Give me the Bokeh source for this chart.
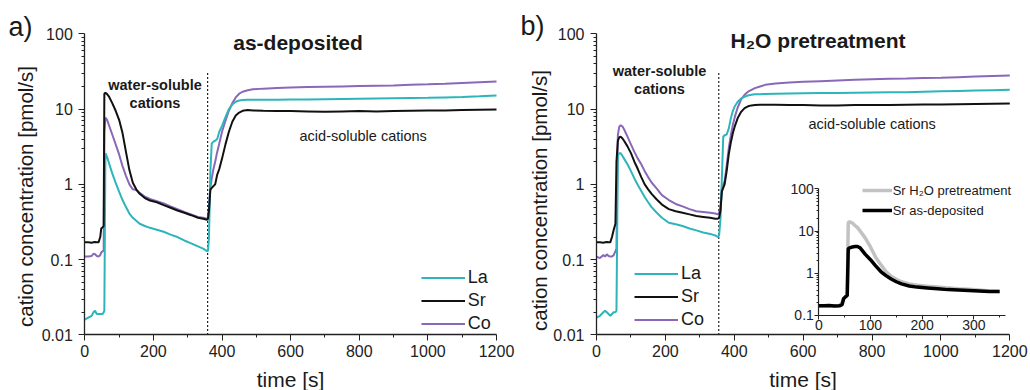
import math
from bokeh.plotting import figure
from bokeh.models import (Range1d, LogScale, LinearAxis, LogAxis, FixedTicker, Legend,
                          LegendItem, Label, CustomJSTickFormatter)
from bokeh.embed import file_html
from bokeh.resources import INLINE

FONT = "Liberation Sans"
C_LA = "#2db5bb"
C_SR = "#111111"
C_CO = "#8a68b8"
C_GRAY = "#c2c2c2"
TXT = "#1a1a1a"

# ---------------- data ----------------
x_ticks = [0, 200, 400, 600, 800, 1000, 1200]
x_minor = [100, 300, 500, 700, 900, 1100]
y_ticks = [0.01, 0.1, 1, 10, 100]
y_minor = [0.02, 0.03, 0.04, 0.05, 0.06, 0.07, 0.08, 0.09,
           0.2, 0.3, 0.4, 0.5, 0.6, 0.7, 0.8, 0.9,
           2, 3, 4, 5, 6, 7, 8, 9, 20, 30, 40, 50, 60, 70, 80, 90]
inset_x_ticks = [0, 100, 200, 300]
inset_x_minor = [50, 150, 250, 350]
inset_y_ticks = [0.1, 1, 10, 100]
inset_y_minor = [0.2, 0.3, 0.4, 0.5, 0.6, 0.7, 0.8, 0.9,
                 2, 3, 4, 5, 6, 7, 8, 9, 20, 30, 40, 50, 60, 70, 80, 90]

boundary_a = 358
boundary_b = 355

# panel a) as-deposited
t_a = [0, 10, 20, 25, 30, 35, 40, 45, 48, 52,
       55, 57, 60, 65, 70, 80, 90, 100, 110, 120,
       130, 140, 150, 160, 175, 190, 210, 230, 250, 270,
       290, 310, 330, 345, 356, 359, 362, 366, 370, 375,
       380, 386, 392, 400, 410, 420, 430, 440, 450, 460,
       475, 490, 520, 560, 600, 650, 700, 750, 800, 850,
       900, 950, 1000, 1050, 1100, 1150, 1200]
la_a = [0.016, 0.017, 0.018, 0.02, 0.021, 0.019, 0.019, 0.019, 0.019, 0.019,
        0.02, 0.021, 2.6, 2.3, 1.95, 1.4, 1.05, 0.8, 0.62, 0.5,
        0.41, 0.36, 0.33, 0.3, 0.28, 0.265, 0.25, 0.235, 0.215, 0.2,
        0.18, 0.165, 0.15, 0.14, 0.13, 0.13, 0.2, 1.5, 3.5, 3.7,
        3.8, 4.0, 5.0, 6.0, 7.8, 10.0, 11.5, 12.5, 13.0, 13.2,
        13.3, 13.3, 13.3, 13.3, 13.4, 13.4, 13.5, 13.6, 13.7, 13.8,
        13.9, 14.0, 14.1, 14.3, 14.5, 14.8, 15.2]
sr_a = [0.17, 0.17, 0.168, 0.17, 0.172, 0.17, 0.17, 0.2, 0.26, 0.27,
        0.28, 16.0, 16.5, 15.8, 14.8, 12.0, 9.5, 7.2, 4.8, 2.7,
        1.55, 1.05, 0.86, 0.75, 0.66, 0.61, 0.58, 0.53, 0.49, 0.45,
        0.42, 0.39, 0.36, 0.35, 0.34, 0.35, 0.45, 0.85, 0.9, 0.95,
        1.0, 1.35, 1.6, 2.2, 3.4, 5.0, 6.8, 8.2, 9.0, 9.5,
        9.7, 9.6, 9.5, 9.4, 9.4, 9.3, 9.2, 9.3, 9.4, 9.3,
        9.4, 9.5, 9.6, 9.6, 9.7, 9.8, 9.9]
co_a = [0.11, 0.11, 0.112, 0.12, 0.118, 0.112, 0.11, 0.115, 0.125, 0.13,
        0.13, 5.0, 7.7, 7.2, 6.2, 4.6, 3.4, 2.5, 1.75, 1.3,
        1.0, 0.86, 0.84, 0.77, 0.69, 0.64, 0.6, 0.56, 0.51, 0.47,
        0.43, 0.4, 0.37, 0.36, 0.35, 0.36, 0.5, 0.9, 1.2, 1.6,
        2.0, 2.7, 3.5, 5.0, 7.0, 9.5, 12.0, 14.3, 16.0, 17.0,
        17.8, 18.3, 18.7, 19.0, 19.3, 19.6, 19.8, 20.0, 20.2, 20.4,
        20.6, 21.0, 21.3, 21.7, 22.2, 22.7, 23.2]

# panel b) H2O pretreatment
t_b = [0, 10, 20, 25, 30, 35, 40, 45, 50, 55,
       58, 62, 66, 70, 75, 80, 90, 100, 110, 120,
       130, 140, 150, 160, 175, 190, 210, 230, 250, 270,
       290, 310, 330, 345, 352, 356, 360, 364, 368, 372,
       378, 384, 390, 396, 402, 410, 420, 430, 440, 450,
       460, 475, 490, 520, 560, 600, 650, 700, 750, 800,
       850, 900, 950, 1000, 1050, 1100, 1150, 1200]
la_b = [0.017, 0.018, 0.02, 0.021, 0.02, 0.019, 0.018, 0.019, 0.02, 0.02,
        0.021, 2.4, 2.6, 2.6, 2.4, 2.2, 1.85, 1.5, 1.2, 0.98,
        0.82, 0.68, 0.58, 0.5, 0.42, 0.36, 0.31, 0.295, 0.28, 0.26,
        0.245, 0.23, 0.22, 0.21, 0.2, 0.21, 0.35, 1.2, 4.3, 4.5,
        4.6, 5.5, 7.5, 9.5, 11.0, 12.5, 13.8, 14.6, 15.2, 15.5,
        15.7, 15.8, 15.9, 16.0, 16.1, 16.2, 16.3, 16.4, 16.5, 16.6,
        16.7, 16.8, 17.0, 17.2, 17.4, 17.6, 17.8, 18.0]
sr_b = [0.17, 0.17, 0.168, 0.17, 0.172, 0.17, 0.17, 0.2, 0.25, 0.3,
        2.0, 3.8, 4.2, 4.3, 4.1, 3.8, 3.2, 2.6, 2.0, 1.6,
        1.25, 1.0, 0.86, 0.75, 0.63, 0.54, 0.47, 0.44, 0.42, 0.4,
        0.38, 0.37, 0.36, 0.35, 0.35, 0.36, 0.45, 0.8, 0.9, 1.0,
        1.5, 2.5, 3.6, 4.8, 6.0, 7.6, 9.2, 10.3, 10.9, 11.2,
        11.3, 11.4, 11.4, 11.4, 11.3, 11.3, 11.2, 11.2, 11.3, 11.3,
        11.3, 11.4, 11.5, 11.5, 11.6, 11.7, 11.8, 11.9]
co_b = [0.11, 0.105, 0.115, 0.11, 0.118, 0.112, 0.11, 0.11, 0.115, 0.13,
        0.14, 4.5, 5.8, 6.1, 5.9, 5.4, 4.3, 3.4, 2.7, 2.2,
        1.85, 1.5, 1.25, 1.06, 0.88, 0.72, 0.62, 0.55, 0.51, 0.47,
        0.44, 0.43, 0.42, 0.41, 0.4, 0.42, 0.5, 0.9, 1.0, 1.1,
        1.8, 3.0, 4.5, 6.2, 8.0, 10.5, 13.5, 15.5, 17.0, 18.0,
        19.0, 20.0, 21.0, 21.8, 22.5, 23.0, 23.5, 24.0, 24.5, 25.0,
        25.3, 25.5, 25.8, 26.0, 26.5, 27.0, 27.5, 28.0]

# inset: Sr comparison
t_in = [0, 10, 20, 30, 40, 45, 48, 52, 55, 57,
        60, 65, 70, 75, 80, 90, 100, 110, 120, 130,
        140, 150, 160, 175, 190, 210, 230, 250, 270, 290,
        310, 330, 350]
sr_pre_in = [0.17, 0.17, 0.17, 0.17, 0.17, 0.2, 0.25, 0.28, 0.3, 16.0,
             16.5, 15.5, 13.5, 12.0, 10.0, 6.8, 4.2, 2.4, 1.6, 1.1,
             0.85, 0.72, 0.63, 0.56, 0.52, 0.49, 0.47, 0.45, 0.43, 0.42,
             0.4, 0.38, 0.37]
sr_dep_in = [0.17, 0.17, 0.172, 0.168, 0.17, 0.18, 0.25, 0.28, 0.3, 3.8,
             4.0, 4.2, 4.3, 4.3, 4.0, 2.8, 2.1, 1.5, 1.1, 0.88,
             0.73, 0.63, 0.56, 0.5, 0.47, 0.45, 0.43, 0.41, 0.4, 0.39,
             0.38, 0.37, 0.37]

series_names = ["La", "Sr", "Co"]
inset_names = ["Sr H\u2082O pretreatment", "Sr as-deposited"]

# ---------------- figure ----------------
# One canvas; the default ranges are canvas pixels (y downwards), used for texts.
W, H = 1030, 390
p = figure(width=W, height=H, x_range=Range1d(0, W), y_range=Range1d(H, 0),
           min_border=0, x_axis_location=None, y_axis_location=None,
           output_backend="svg", toolbar_location=None)
p.outline_line_color = None
p.grid.visible = False

# panel placements expressed as data ranges spanning the whole canvas
p.extra_x_ranges = {
    "xa": Range1d(-245.7, 2756.5),     # panel a: t=0 at 84.3 px, t=1200 at 496 px
    "xb": Range1d(-1730.4, 1260.1),    # panel b: t=0 at 596 px, t=1200 at 1009.3 px
    "ix": Range1d(-1583.7, 409.7),     # inset: t=0 at 818.3 px, 0.5167 px/s
}
p.extra_y_ranges = {
    "yl": Range1d(0.001832, 276.8),    # main panels: 100 at 33.3 px, 0.01 at 334.5 px
    "iy": Range1d(0.001675, 2877000),  # inset: 100 at 188.3 px, 0.1 at 315 px
}
p.extra_y_scales = {"yl": LogScale(), "iy": LogScale()}


def fmt():
    return CustomJSTickFormatter(code="return tick.toString();")


def style_axis(ax, label_size="16px", maj=6, mnr=3):
    ax.axis_line_color = "#222222"
    ax.axis_line_width = 1.3
    ax.major_tick_line_color = "#222222"
    ax.minor_tick_line_color = "#222222"
    ax.major_tick_in = 0
    ax.major_tick_out = maj
    ax.minor_tick_in = 0
    ax.minor_tick_out = mnr
    ax.major_label_text_font = FONT
    ax.major_label_text_font_size = label_size
    ax.major_label_text_color = "#222222"


def add_axes(xr):
    xa = LinearAxis(x_range_name=xr, y_range_name="yl", fixed_location=0.01,
                    bounds=(0, 1200), ticker=FixedTicker(ticks=x_ticks, minor_ticks=x_minor))
    ya = LogAxis(x_range_name=xr, y_range_name="yl", fixed_location=0,
                 bounds=(0.01, 100), formatter=fmt(),
                 ticker=FixedTicker(ticks=y_ticks, minor_ticks=y_minor))
    style_axis(xa)
    style_axis(ya)
    xa.major_label_standoff = 4
    ya.major_label_standoff = 6
    p.add_layout(xa, "below")
    p.add_layout(ya, "left")


def add_series(xr, t, la, sr, co, boundary):
    p.segment(x0=[boundary], y0=[0.01], x1=[boundary], y1=[32],
              x_range_name=xr, y_range_name="yl",
              line_color="#222222", line_width=1.2, line_dash="2 2")
    r_co = p.line(t, co, x_range_name=xr, y_range_name="yl", line_color=C_CO, line_width=2)
    r_la = p.line(t, la, x_range_name=xr, y_range_name="yl", line_color=C_LA, line_width=2)
    r_sr = p.line(t, sr, x_range_name=xr, y_range_name="yl", line_color=C_SR, line_width=2)
    return {"La": r_la, "Sr": r_sr, "Co": r_co}


def add_legend(rends, names, loc, gw, gh, size):
    items = [LegendItem(label=n, renderers=[rends[n]]) for n in names]
    leg = Legend(items=items, location=loc, glyph_width=gw, glyph_height=gh,
                 label_height=gh, spacing=2 if gh > 20 else 0, padding=0, margin=0,
                 label_standoff=3 if gh > 20 else 1,
                 label_text_font=FONT, label_text_font_size=size,
                 label_text_color=TXT, border_line_color=None, background_fill_alpha=0)
    p.add_layout(leg)


def lbl(x, y, text, size, bold=False, align="center", angle=0.0, baseline="alphabetic"):
    # y is the wanted baseline; the rendered baseline sits about a quarter em lower
    if baseline == "alphabetic":
        y = y - 0.25 * size
    p.add_layout(Label(x=x, y=y, text=text, text_font=FONT, text_font_size=f"{size}px",
                       text_font_style="bold" if bold else "normal",
                       text_align=align, text_baseline=baseline, angle=angle,
                       text_color=TXT))


# ---------------- panel a ----------------
add_axes("xa")
ra = add_series("xa", t_a, la_a, sr_a, co_a, boundary_a)
add_legend(ra, series_names, (420.7, 56.5), 44, 21, "18px")
lbl(8, 33, "a)", 27, align="left")
lbl(297.5, 47.7, "as-deposited", 21, bold=True)
lbl(154.5, 88.3, "water-soluble", 14.5, bold=True)
lbl(154.5, 106, "cations", 14.5, bold=True)
lbl(362.7, 139.3, "acid-soluble cations", 14.5)
lbl(290, 384, "time [s]", 21)
lbl(25, 196, "cation concentration [pmol/s]", 20.5, angle=math.pi / 2, baseline="middle")

# ---------------- panel b ----------------
add_axes("xb")
rb = add_series("xb", t_b, la_b, sr_b, co_b, boundary_b)
add_legend(rb, series_names, (634, 60.5), 44, 21, "18px")
lbl(520, 32, "b)", 27, align="left")
lbl(817.5, 45, "H\u2082O pretreatment", 21, bold=True)
lbl(659, 74, "water-soluble", 14.5, bold=True)
lbl(659, 92.3, "cations", 14.5, bold=True)
lbl(871.7, 126.7, "acid-soluble cations", 14.5)
lbl(802.5, 384, "time [s]", 21)
lbl(539, 200, "cation concentration [pmol/s]", 20.5, angle=math.pi / 2, baseline="middle")

# ---------------- inset ----------------
r_pre = p.line(t_in, sr_pre_in, x_range_name="ix", y_range_name="iy",
               line_color=C_GRAY, line_width=3.5)
r_dep = p.line(t_in, sr_dep_in, x_range_name="ix", y_range_name="iy",
               line_color="#000000", line_width=3.5)
ix_axis = LinearAxis(x_range_name="ix", y_range_name="iy", fixed_location=0.1,
                     bounds=(0, 362),
                     ticker=FixedTicker(ticks=inset_x_ticks, minor_ticks=inset_x_minor))
iy_axis = LogAxis(x_range_name="ix", y_range_name="iy", fixed_location=0,
                  bounds=(0.1, 100), formatter=fmt(),
                  ticker=FixedTicker(ticks=inset_y_ticks, minor_ticks=inset_y_minor))
for ax in (ix_axis, iy_axis):
    style_axis(ax, "14px", 4, 2)
    ax.axis_line_width = 1.2
    ax.major_label_standoff = 1
p.add_layout(ix_axis, "below")
p.add_layout(iy_axis, "left")
add_legend({inset_names[0]: r_pre, inset_names[1]: r_dep},
           inset_names, (861.7, 170), 30, 20, "13px")

open("out.html", "w").write(file_html(p, INLINE))
